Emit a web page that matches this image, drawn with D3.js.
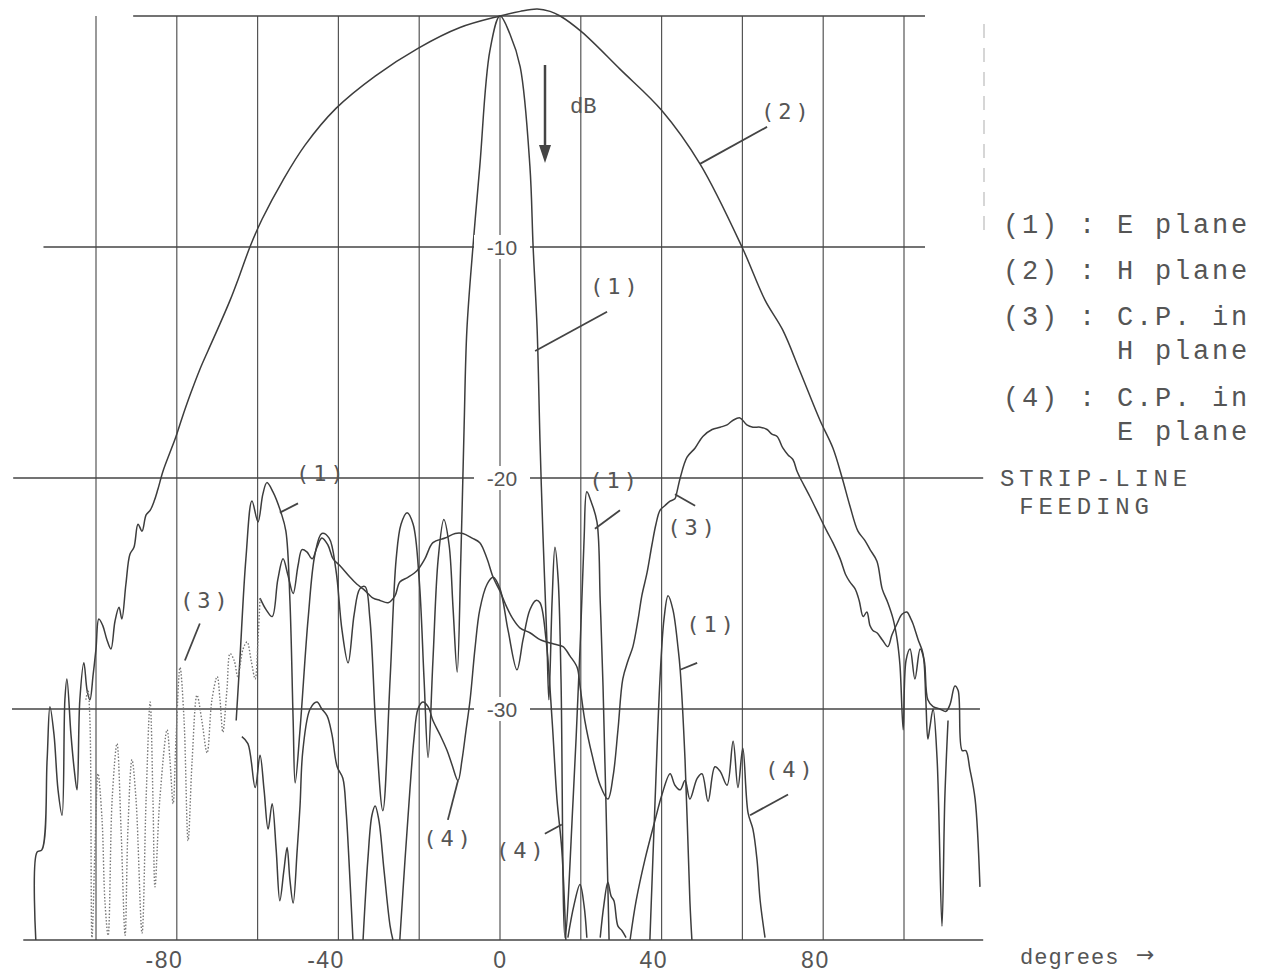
<!DOCTYPE html>
<html><head><meta charset="utf-8">
<script src="https://cdn.jsdelivr.net/npm/d3@7"></script>
<style>body{margin:0;background:#fff}</style>
</head><body>
<svg id="chart" width="1270" height="976"></svg>
<script>
// ---------- data (degrees, dB) ----------
const gridX = [-100,-80,-60,-40,-20,0,20,40,60,80,100];
const gridY = [0,-10,-20,-30,-40];
const xTicks = [-80,-40,0,40,80];
const yTickLabels = [-10,-20,-30];

// (1) E plane
const ePlane = [[-65.3,-30.5],[-64.4,-27.9],[-62.9,-23.5],[-61.4,-21.0],[-59.9,-21.9],[-58.7,-20.7],[-57.7,-20.2],[-56.2,-20.6],[-54.2,-21.5],[-53.0,-22.3],[-52.0,-25.3],[-51.2,-30.5],[-50.7,-33.2],[-49.5,-30.9],[-47.5,-26.1],[-45.8,-23.3],[-44.1,-22.4],[-42.3,-22.6],[-40.6,-24.0],[-39.1,-26.6],[-37.6,-28.0],[-36.1,-25.9],[-34.7,-24.8],[-33.4,-24.7],[-32.2,-26.1],[-30.7,-30.9],[-29.0,-34.4],[-27.2,-28.7],[-25.7,-23.5],[-24.5,-22.0],[-23.0,-21.5],[-21.5,-22.0],[-20.0,-24.4],[-18.8,-28.7],[-17.8,-32.1],[-16.6,-27.9],[-15.3,-23.5],[-13.9,-21.8],[-12.6,-22.9],[-11.6,-25.7],[-10.6,-28.4],[-9.7,-23.5],[-8.9,-17.9],[-8.2,-13.6],[-6.7,-10.0],[-5.0,-6.5],[-2.5,-1.5],[0,0],[2.5,-0.8],[5.0,-2.2],[7.4,-6.5],[8.2,-10.0],[9.2,-13.6],[9.9,-18.4],[10.6,-22.3],[11.6,-27.0],[12.1,-29.6],[12.9,-25.3],[13.6,-23.0],[14.4,-24.4],[15.1,-28.7],[16.1,-39.9],[18.1,-33.9],[19.8,-27.4],[20.8,-22.7],[21.5,-20.6],[22.5,-21.0],[24.0,-21.9],[24.8,-25.3],[25.5,-29.0],[26.2,-33.9],[27.0,-40]];
const ePlane2 = [[37.1,-40],[38.4,-33.9],[39.6,-28.7],[40.6,-26.1],[41.6,-25.1],[42.8,-25.7],[44.1,-27.4],[44.6,-28.3],[45.8,-32.2],[47.0,-38.3],[47.5,-40]];
const ePlaneLow1 = [[16.8,-39.9],[18.3,-38.5],[19.8,-37.6],[20.8,-38.5],[21.5,-39.9]];
const ePlaneLow2 = [[24.8,-39.9],[25.7,-38.5],[26.7,-37.5],[27.5,-38.1],[28.2,-38.3],[29.2,-39.4],[30.2,-39.6],[31.2,-39.9]];

// (2) H plane
const hPlane = [[-114.9,-40],[-114.6,-36.2],[-113.4,-36.1],[-112.1,-32.2],[-111.4,-29.9],[-110.4,-31.1],[-109.4,-33.5],[-108.4,-34.6],[-107.7,-29.6],[-107.2,-28.7],[-106.2,-31.1],[-105.4,-32.6],[-104.7,-33.5],[-104.0,-29.6],[-103.0,-28.0],[-102.2,-29.2],[-101.5,-29.6],[-100.7,-28.5],[-100.0,-27.4],[-99.3,-26.1],[-98.3,-26.4],[-97.3,-27.0],[-96.3,-27.4],[-95.3,-26.2],[-94.3,-25.6],[-93.6,-26.1],[-92.6,-24.6],[-91.6,-23.3],[-90.6,-23.0],[-89.6,-22.0],[-88.6,-22.3],[-87.6,-21.6],[-86.6,-21.4],[-85.6,-21.0],[-84.7,-20.5],[-83.4,-19.7],[-81.7,-18.9],[-80.2,-18.2],[-78.7,-17.4],[-76.7,-16.4],[-74.3,-15.3],[-72.3,-14.5],[-70.0,-13.6],[-66.8,-12.3],[-64.4,-11.2],[-61.9,-10.0],[-58.9,-8.8],[-53.7,-7.1],[-48.3,-5.6],[-40.6,-4.0],[-30.9,-2.6],[-20.3,-1.4],[-9.9,-0.5],[0,0],[5.0,0.2],[9.2,0.3],[12.4,0.2],[14.9,0],[20.3,-0.7],[29.7,-2.3],[40.1,-4.1],[49.5,-6.4],[59.9,-10.0],[65.6,-12.3],[70.0,-13.6],[74.3,-15.4],[79.2,-17.5],[82.4,-18.7],[84.7,-20.0],[86.6,-21.2],[88.6,-22.3],[90.3,-22.7],[91.6,-23.1],[93.3,-23.6],[94.6,-24.8],[96.0,-25.4],[97.3,-26.1],[98.3,-27.0],[99.0,-28.1],[99.8,-30.9],[100.5,-27.9],[101.5,-27.4],[102.7,-28.7],[104.0,-27.4],[105.0,-27.9],[105.9,-29.6],[107.2,-29.9],[108.9,-30.0],[110.4,-30.1],[111.4,-29.8],[112.6,-29.0],[113.4,-29.2],[114.4,-31.8],[115.3,-31.8],[116.3,-32.6],[117.6,-33.9],[118.8,-37.7]];

// (3) C.P. in H plane : dotted far-left part, then solid
const cpHDotted = [[-102.5,-29.6],[-102.0,-29.2],[-101.5,-30.5],[-101.0,-39.9],[-100.2,-35.7],[-99.5,-32.8],[-98.5,-34.8],[-97.8,-38.3],[-97.0,-39.8],[-96.0,-33.9],[-94.8,-31.5],[-93.8,-35.2],[-92.8,-39.8],[-92.1,-35.2],[-91.1,-32.2],[-90.1,-33.9],[-88.6,-39.7],[-87.6,-33.9],[-86.6,-29.7],[-85.9,-33.9],[-85.4,-37.7],[-84.2,-33.9],[-82.4,-30.9],[-81.7,-32.2],[-80.9,-34.1],[-80.2,-31.3],[-79.2,-28.2],[-78.2,-30.5],[-77.2,-35.7],[-76.2,-32.2],[-75.0,-29.4],[-73.8,-30.5],[-72.5,-31.9],[-71.3,-29.6],[-70.0,-28.6],[-69.3,-29.6],[-68.6,-31.0],[-67.6,-29.2],[-66.8,-27.6],[-65.8,-27.9],[-64.9,-28.6],[-63.6,-27.4],[-62.6,-27.1],[-61.6,-27.9],[-60.6,-28.7],[-59.9,-27.0],[-59.4,-25.2]];
const cpH = [[-59.4,-25.2],[-57.9,-25.7],[-56.4,-26.0],[-55.0,-24.4],[-53.7,-23.5],[-52.5,-24.2],[-51.2,-25.0],[-50.0,-23.8],[-49.0,-23.1],[-47.8,-23.2],[-46.5,-23.5],[-45.3,-23.0],[-44.1,-22.6],[-42.6,-22.9],[-41.3,-23.5],[-39.6,-23.8],[-37.1,-24.3],[-35.4,-24.6],[-33.9,-24.8],[-32.7,-25.0],[-31.4,-25.2],[-29.7,-25.3],[-27.7,-25.4],[-26.0,-25.1],[-24.8,-24.5],[-22.8,-24.3],[-20.5,-24.0],[-18.6,-23.5],[-16.6,-22.8],[-13.6,-22.6],[-11.1,-22.4],[-9.2,-22.4],[-6.9,-22.6],[-5.0,-22.8],[-3.2,-23.5],[-1.7,-24.3],[0,-24.9],[1.7,-25.6],[3.2,-26.1],[5.0,-26.5],[7.4,-26.7],[9.9,-27.0],[11.6,-27.1],[13.6,-27.2],[15.6,-27.3],[17.3,-27.7],[19.1,-28.2],[19.8,-29.0],[21.0,-30.5],[22.8,-32.0],[24.8,-33.3],[26.7,-33.9],[28.0,-32.9],[29.2,-30.9],[30.4,-28.7],[31.7,-27.9],[32.9,-27.3],[34.2,-26.1],[35.1,-25.1],[36.4,-24.1],[37.6,-22.9],[38.6,-22.0],[39.6,-21.4],[40.8,-21.2],[42.1,-21.0],[43.3,-20.9],[43.8,-20.6],[44.6,-20.0],[46.3,-19.1],[48.3,-18.7],[50.2,-18.2],[52.5,-17.9],[54.5,-17.8],[56.2,-17.7],[57.7,-17.5],[59.4,-17.4],[61.1,-17.7],[62.6,-17.8],[64.4,-17.8],[66.1,-17.9],[67.3,-18.1],[68.6,-18.2],[70.0,-18.7],[71.3,-19.0],[72.5,-19.2],[73.5,-19.7],[74.3,-20.0],[76.7,-20.8],[79.2,-21.7],[80.9,-22.3],[82.4,-22.8],[84.2,-23.5],[85.6,-24.2],[86.6,-24.5],[87.9,-24.8],[88.9,-25.3],[89.9,-26.0],[90.8,-25.8],[91.6,-26.4],[92.3,-26.6],[93.3,-26.7],[94.6,-27.0],[96.0,-27.3],[97.0,-26.8],[98.3,-26.3],[99.5,-25.9],[100.7,-25.8],[101.7,-26.1],[102.2,-26.3],[103.5,-27.0],[104.7,-27.6],[105.4,-29.6],[105.9,-31.3],[106.4,-30.8],[107.2,-30.0],[108.2,-32.2],[109.4,-39.4],[110.1,-33.9],[110.9,-30.5]];

// (4) C.P. in E plane (several traces)
const cpE1 = [[-63.9,-31.2],[-62.4,-31.5],[-60.6,-33.4],[-59.4,-32.0],[-58.4,-33.5],[-57.4,-35.2],[-56.4,-34.1],[-55.4,-36.1],[-54.5,-38.3],[-53.5,-37.0],[-52.7,-36.0],[-52.0,-37.4],[-51.2,-38.4],[-50.2,-36.1],[-49.5,-34.2],[-48.8,-31.8],[-47.0,-30.0],[-45.3,-29.7],[-44.1,-30.0],[-42.8,-30.3],[-41.6,-31.1],[-40.3,-32.5],[-38.9,-33.0],[-38.1,-34.4],[-37.4,-36.5],[-36.4,-40]];
const cpE2 = [[-33.9,-40],[-32.7,-36.5],[-31.7,-34.6],[-30.9,-34.2],[-30.0,-34.8],[-28.7,-37.0],[-27.2,-39.4],[-26.5,-40]];
const cpE3 = [[-24.8,-40],[-23.5,-36.5],[-22.3,-33.5],[-21.3,-31.3],[-20.3,-30.0],[-19.1,-29.7],[-17.8,-29.9],[-16.6,-30.5],[-14.9,-31.1],[-13.1,-31.8],[-11.9,-32.4],[-10.4,-33.1],[-9.4,-32.2],[-8.4,-30.9],[-7.4,-29.6],[-6.2,-27.4],[-5.0,-25.7],[-3.2,-24.6],[-1.7,-24.3],[0,-24.8],[2.0,-26.6],[4.2,-28.3],[5.7,-27.0],[7.4,-25.7],[8.9,-25.3],[9.9,-25.4],[11.4,-27.0],[12.9,-30.5],[14.1,-33.9],[15.3,-36.1],[16.3,-40]];
const cpE4 = [[32.2,-40],[33.7,-38.3],[35.9,-36.5],[38.4,-34.8],[40.1,-33.7],[42.1,-32.8],[43.3,-33.3],[44.6,-33.5],[45.8,-33.1],[47.0,-33.9],[48.8,-33.0],[50.0,-32.8],[51.5,-34.0],[53.2,-32.5],[54.5,-32.7],[56.2,-33.3],[57.7,-31.4],[58.9,-33.4],[60.1,-31.7],[61.4,-34.5],[62.6,-35.2],[63.6,-36.5],[64.4,-38.3],[65.6,-39.9]];

// curve labels: text, label position, leader start, leader end (deg, dB)
const curveLabels = [
  {t:"(2)", at:[71.0,-4.1], from:[66.1,-4.8], to:[49.5,-6.4]},
  {t:"(1)", at:[28.7,-11.7], from:[26.5,-12.8], to:[8.7,-14.5]},
  {t:"(1)", at:[-44.1,-19.8], from:[-50.0,-21.1], to:[-54.5,-21.5]},
  {t:"(3)", at:[-72.8,-25.3], from:[-74.3,-26.3], to:[-78.0,-27.9]},
  {t:"(1)", at:[28.5,-20.1], from:[29.7,-21.4], to:[23.5,-22.2]},
  {t:"(3)", at:[47.8,-22.1], from:[43.3,-20.7], to:[48.3,-21.2]},
  {t:"(1)", at:[52.5,-26.3], from:[48.8,-28.0], to:[44.6,-28.3]},
  {t:"(4)", at:[-12.6,-35.6], from:[-10.4,-33.1], to:[-12.9,-34.8]},
  {t:"(4)", at:[5.4,-36.1], from:[11.1,-35.4], to:[15.3,-35.0]},
  {t:"(4)", at:[72.0,-32.6], from:[71.3,-33.7], to:[61.9,-34.6]}
];
const legendLines = ["(1) : E plane","(2) : H plane","(3) : C.P. in","      H plane","(4) : C.P. in","      E plane"];
const noteLines = ["STRIP-LINE"," FEEDING"];

// ---------- drawing ----------
const svg = d3.select('#chart');
svg.append('rect').attr('width',1270).attr('height',976).attr('fill','#fff');
const x = d3.scaleLinear().domain([-100,100]).range([96,904]);
const y = d3.scaleLinear().domain([0,-40]).range([16,940]);
const ink = '#3d3d3d';

// vertical grid
svg.append('g').selectAll('line').data(gridX).join('line')
  .attr('x1',d=>x(d)).attr('x2',d=>x(d)).attr('y1',y(0)).attr('y2',y(-40))
  .attr('stroke','#555').attr('stroke-width',1.2);
// horizontal grid with their drawn extents
const hExt = {0:[-90.8,105.2],'-10':[-113,105.2],'-20':[-120.5,119.6],'-30':[-120.8,118.8],'-40':[-118,119.6]};
svg.append('g').selectAll('line').data(gridY).join('line')
  .attr('x1',d=>x(hExt[d][0])).attr('x2',d=>x(hExt[d][1])).attr('y1',d=>y(d)).attr('y2',d=>y(d))
  .attr('stroke','#444').attr('stroke-width',1.5);
// faint right border
svg.append('line').attr('x1',984).attr('x2',984).attr('y1',y(0)+8).attr('y2',y(-9.5))
  .attr('stroke','#bbb').attr('stroke-width',1.2).attr('stroke-dasharray','14,10');

// curves
const line = d3.line().x(d=>x(d[0])).y(d=>y(d[1])).curve(d3.curveCatmullRom.alpha(0.5));
const solid = [ePlane,ePlane2,ePlaneLow1,ePlaneLow2,hPlane,cpH,cpE1,cpE2,cpE3,cpE4];
svg.append('g').selectAll('path').data(solid).join('path')
  .attr('d',line).attr('fill','none').attr('stroke',ink).attr('stroke-width',1.5).attr('stroke-linejoin','round');
svg.append('path').datum(cpHDotted).attr('d',line).attr('fill','none')
  .attr('stroke','#777').attr('stroke-width',1.4).attr('stroke-dasharray','1.5,1.8');

// y labels on the 0-degree line
const yl = svg.append('g');
yTickLabels.forEach(v=>{
  yl.append('rect').attr('x',x(0)-26).attr('y',y(v)-12).attr('width',56).attr('height',24).attr('fill','#fff');
  yl.append('text').attr('x',x(0)+2).attr('y',y(v)+8).attr('text-anchor','middle')
    .attr('font-family','Liberation Sans, Arial, sans-serif').attr('font-size',21).attr('fill','#555').text(v);
});

// x axis labels
const ax = svg.append('g').attr('transform',`translate(0,${y(-40)+25})`)
  .call(d3.axisBottom(x).tickValues(xTicks).tickSize(0).tickFormat(d=>d));
ax.select('.domain').remove();
ax.selectAll('text').attr('font-family','Liberation Sans, Arial, sans-serif').attr('font-size',23)
  .attr('fill','#555').attr('text-anchor','end').attr('dx',d=>d===0?7:6).attr('dy',0).attr('letter-spacing',1.5);

svg.append('text').attr('x',1020).attr('y',964).attr('font-family','Liberation Mono, monospace')
  .attr('font-size',22).attr('letter-spacing',1).attr('fill','#555').text('degrees');
svg.append('text').attr('x',1136).attr('y',962).attr('font-family','DejaVu Sans, sans-serif')
  .attr('font-size',22).attr('fill','#555').text('\u2192');

// dB arrow
svg.append('line').attr('x1',545).attr('x2',545).attr('y1',65).attr('y2',150).attr('stroke','#444').attr('stroke-width',2.5);
svg.append('path').attr('d','M539,145 L545,163 L551,145 Z').attr('fill','#444');
svg.append('text').attr('x',570).attr('y',113).attr('font-family','Liberation Mono, monospace')
  .attr('font-size',22).attr('fill','#555').text('dB');

// curve labels & leaders
const cl = svg.append('g');
curveLabels.forEach(c=>{
  cl.append('line').attr('x1',x(c.from[0])).attr('y1',y(c.from[1])).attr('x2',x(c.to[0])).attr('y2',y(c.to[1]))
    .attr('stroke','#444').attr('stroke-width',1.8);
  cl.append('text').attr('x',x(c.at[0])).attr('y',y(c.at[1])+8).attr('text-anchor','middle')
    .attr('font-family','DejaVu Sans Mono, monospace').attr('font-size',22).attr('letter-spacing',4)
    .attr('fill','#555').text(c.t);
});

// legend
const lg = svg.append('g').attr('font-family','Liberation Mono, monospace').attr('fill','#555');
const legendY = [233,279,325,359,406,440];
legendLines.forEach((t,i)=>lg.append('text').attr('x',1003).attr('y',legendY[i]).attr('font-size',27)
  .attr('letter-spacing',2.8).style('white-space','pre').text(t));
noteLines.forEach((t,i)=>lg.append('text').attr('x',1000).attr('y',486+i*28).attr('font-size',24)
  .attr('letter-spacing',4.8).style('white-space','pre').text(t));
</script>
</body></html>
